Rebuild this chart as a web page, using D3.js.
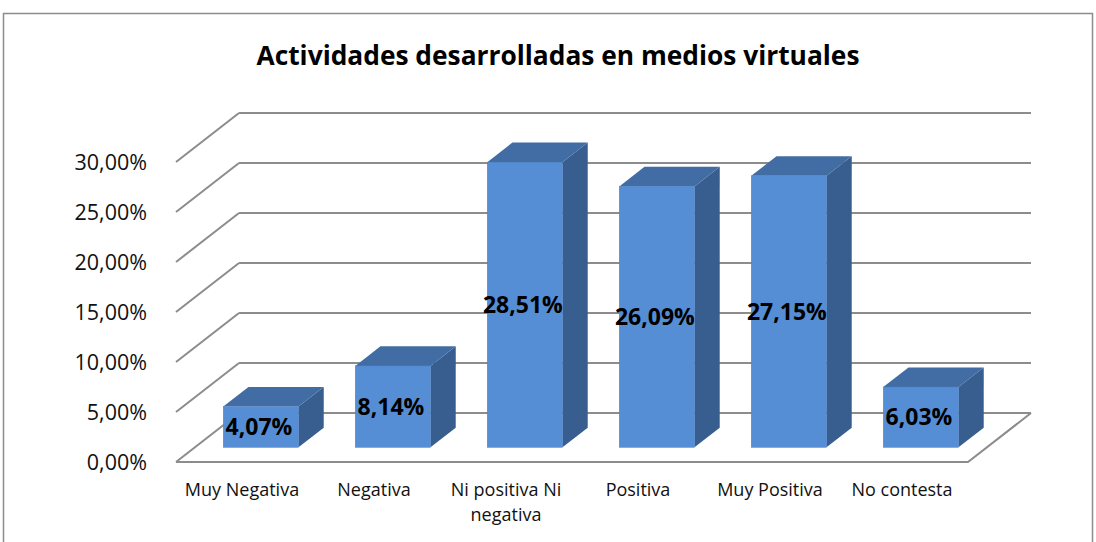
<!DOCTYPE html>
<html>
<head>
<meta charset="utf-8">
<script src="https://cdn.jsdelivr.net/npm/d3@7/dist/d3.min.js"></script>
<style>
  body { margin: 0; background: #fff; }
  text { font-family: "Open Sans", "Noto Sans", sans-serif; }
</style>
</head>
<body>
<div id="chart"></div>
<script>
var categories = ["Muy Negativa", "Negativa", "Ni positiva Ni negativa", "Positiva", "Muy Positiva", "No contesta"];
var categoryLines = [["Muy Negativa"], ["Negativa"], ["Ni positiva Ni", "negativa"], ["Positiva"], ["Muy Positiva"], ["No contesta"]];
var values = [4.07, 8.14, 28.51, 26.09, 27.15, 6.03];
var valueLabels = ["4,07%", "8,14%", "28,51%", "26,09%", "27,15%", "6,03%"];
var ticks = [0, 5, 10, 15, 20, 25, 30];
var tickLabels = ["0,00%", "5,00%", "10,00%", "15,00%", "20,00%", "25,00%", "30,00%"];
var title = "Actividades desarrolladas en medios virtuales";

var w = 1096;
var h = 542;
// depth offset of the 3d box (front -> back)
var depthDx = 63;
var depthDy = -49;
var barFront = 0.3;
var barBack = 0.7;

var svg = d3.select("#chart").append("svg").attr("width", w).attr("height", h);

svg.append("rect")
  .attr("x", 3.5).attr("y", 13.5)
  .attr("width", 1089).attr("height", 540)
  .attr("fill", "white").attr("stroke", "#8c8c8c").attr("stroke-width", 1.5);

var x = d3.scaleBand().domain(categories).range([176, 968]).paddingInner(0).paddingOuter(0);
var y = d3.scaleLinear().domain([0, 30]).range([462, 162]);

function proj(px, v, depth) {
  return [px + depthDx * depth, y(v) + depthDy * depth];
}

var grid = svg.append("g").attr("stroke", "#8c8c8c").attr("stroke-width", 2).attr("fill", "none");

// back wall lines
grid.selectAll(".back")
  .data(ticks)
  .enter()
  .append("line")
  .attr("x1", (d) => proj(176, d, 1)[0])
  .attr("y1", (d) => proj(176, d, 1)[1])
  .attr("x2", (d) => proj(968, d, 1)[0])
  .attr("y2", (d) => proj(968, d, 1)[1]);

// side wall lines
grid.selectAll(".side")
  .data(ticks)
  .enter()
  .append("line")
  .attr("x1", (d) => proj(176, d, 0)[0])
  .attr("y1", (d) => proj(176, d, 0)[1])
  .attr("x2", (d) => proj(176, d, 1)[0])
  .attr("y2", (d) => proj(176, d, 1)[1]);

// floor
grid.append("polyline")
  .attr("points", [proj(176, 0, 0), proj(968, 0, 0), proj(968, 0, 1)].map((p) => p.join(",")).join(" "));

// y axis labels
svg.append("g").selectAll("text")
  .data(ticks)
  .enter()
  .append("text")
  .attr("x", 147)
  .attr("y", (d) => y(d))
  .attr("dy", ".35em")
  .attr("text-anchor", "end")
  .attr("font-size", 21.5)
  .attr("fill", "#111")
  .text((d, i) => tickLabels[i]);

// bars
var bw = x.bandwidth() * 0.57;
var bars = svg.append("g").selectAll(".bar")
  .data(values)
  .enter()
  .append("g")
  .attr("class", "bar");

function pts(arr) {
  return arr.map((p) => p.join(",")).join(" ");
}

bars.each(function (d, i) {
  var g = d3.select(this);
  var x0 = x(categories[i]) + (x.bandwidth() - bw) / 2;
  var x1 = x0 + bw;
  g.append("polygon")
    .attr("points", pts([proj(x1, 0, barFront), proj(x1, 0, barBack), proj(x1, d, barBack), proj(x1, d, barFront)]))
    .attr("fill", "#385e8f");
  g.append("polygon")
    .attr("points", pts([proj(x0, d, barFront), proj(x1, d, barFront), proj(x1, d, barBack), proj(x0, d, barBack)]))
    .attr("fill", "#426ca4");
  var fl = proj(x0, d, barFront);
  var br = proj(x1, 0, barFront);
  g.append("rect")
    .attr("x", fl[0]).attr("y", fl[1])
    .attr("width", br[0] - fl[0]).attr("height", br[1] - fl[1])
    .attr("fill", "#558ed5")
    .attr("stroke", "#4a7fc4").attr("stroke-width", 0.5);
  g.append("text")
    .attr("x", (fl[0] + br[0]) / 2 - 2)
    .attr("y", (fl[1] + br[1]) / 2)
    .attr("dy", ".35em")
    .attr("text-anchor", "middle")
    .attr("font-size", 23)
    .attr("font-weight", "bold")
    .attr("fill", "black")
    .text(valueLabels[i]);
});

// category labels
var cats = svg.append("g").selectAll("text")
  .data(categories)
  .enter()
  .append("text")
  .attr("x", (d) => x(d) + x.bandwidth() / 2)
  .attr("y", 496)
  .attr("text-anchor", "middle")
  .attr("font-size", 18)
  .attr("fill", "#111");
cats.each(function (d, i) {
  var t = d3.select(this);
  categoryLines[i].forEach((line, k) => {
    t.append("tspan")
      .attr("x", x(d) + x.bandwidth() / 2)
      .attr("dy", k == 0 ? 0 : 25)
      .text(line);
  });
});

svg.append("text")
  .attr("x", 558)
  .attr("y", 65)
  .attr("text-anchor", "middle")
  .attr("font-size", 26)
  .attr("font-weight", "bold")
  .attr("textLength", 603)
  .attr("lengthAdjust", "spacingAndGlyphs")
  .text(title);
</script>
</body>
</html>
